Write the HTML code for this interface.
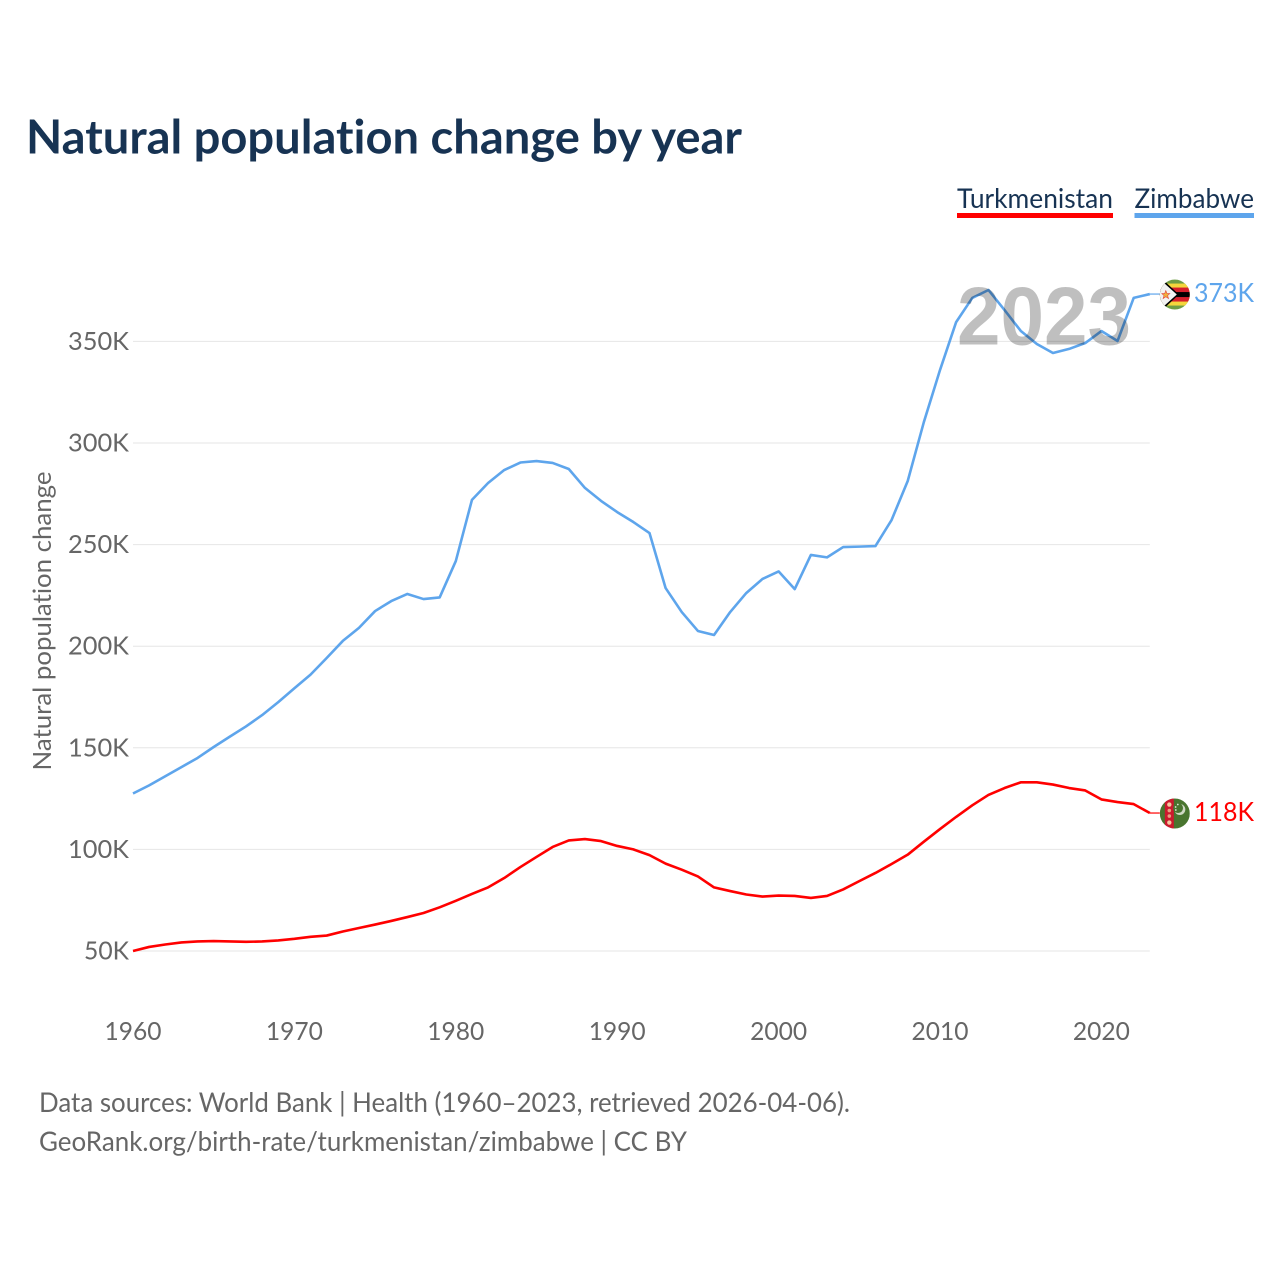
<!DOCTYPE html>
<html lang="en">
<head>
<meta charset="utf-8">
<title>Natural population change by year</title>
<style>
html,body{margin:0;padding:0;background:#fff;width:1280px;height:1280px;overflow:hidden}
svg{display:block}
text{font-family:"Lato","Carlito","Liberation Sans",sans-serif;font-variant-ligatures:none}
</style>
</head>
<body>
<svg id="chart" xmlns="http://www.w3.org/2000/svg" width="1280" height="1280" viewBox="0 0 1280 1280">
  <defs>
    <clipPath id="flag-clip"><circle cx="0" cy="0" r="15"></circle></clipPath>
  </defs>
  <rect x="0" y="0" width="1280" height="1280" fill="#fff"></rect>
  <text x="26" y="153.5" font-size="47" font-weight="700" fill="#173353" textLength="716" lengthAdjust="spacingAndGlyphs">Natural population change by year</text>

  <g>
    <g>
      <text x="957" y="208" font-size="27" fill="#173353" textLength="156" lengthAdjust="spacingAndGlyphs">Turkmenistan</text>
      <rect x="957" y="213" width="156" height="5" fill="#ff0000"></rect>
    </g>
    <g>
      <text x="1134.5" y="208" font-size="27" fill="#173353" textLength="119.5" lengthAdjust="spacingAndGlyphs">Zimbabwe</text>
      <rect x="1134.5" y="213" width="119.5" height="5" fill="#5ea5ec"></rect>
    </g>
  </g>

  <g id="grid"></g>
  <g id="y-ticks"></g>
  <g id="x-ticks"></g>
  <text transform="translate(51,621) rotate(-90)" text-anchor="middle" font-size="25.5" fill="#666" textLength="299" lengthAdjust="spacingAndGlyphs">Natural population change</text>

  <g id="series"></g>

  <text x="957" y="344.5" font-size="83" font-weight="700" fill="#000" fill-opacity="0.25" style="font-family:'Liberation Sans',sans-serif" textLength="174" lengthAdjust="spacingAndGlyphs">2023</text>

  <g id="flag-zimbabwe">
    <g clip-path="url(#flag-clip)">
      <rect x="-15" y="-15" width="30" height="30" fill="#6f9e45"></rect>
      <rect x="-15" y="-11" width="30" height="22" fill="#f4d63c"></rect>
      <rect x="-15" y="-7" width="30" height="14" fill="#d6202c"></rect>
      <rect x="-15" y="-2.5" width="30" height="5" fill="#000"></rect>
      <polygon points="-15,-15 -12,-15 4,0 -12,15 -15,15" fill="#000"></polygon>
      <polygon points="-15,-15 -13,-13.5 2,0 -13,13.5 -15,15" fill="#f2f2f2"></polygon>
      <polygon points="-9,-4 -7.8,-1 -5,-1 -7.2,1 -6.3,4 -9,2.2 -11.7,4 -10.8,1 -13,-1 -10.2,-1" fill="#f0b13c" stroke="#e2403a" stroke-width="0.6"></polygon>
    </g>
  </g>
  <g id="flag-turkmenistan">
    <g clip-path="url(#flag-clip)">
      <rect x="-15" y="-15" width="30" height="30" fill="#49752f"></rect>
      <rect x="-10" y="-15" width="9" height="30" fill="#cc1a2e"></rect>
      <circle cx="-5.5" cy="-9" r="2.2" fill="#f4c9a0"></circle>
      <circle cx="-5.5" cy="-3" r="1.8" fill="#e8a080"></circle>
      <circle cx="-5.5" cy="2.5" r="1.8" fill="#e8a080"></circle>
      <circle cx="-5.5" cy="9" r="2.2" fill="#f4c9a0"></circle>
      <circle cx="5" cy="-4" r="5.5" fill="#cfd8c4"></circle>
      <circle cx="3.2" cy="-5.5" r="5" fill="#49752f"></circle>
      <circle cx="3" cy="-9" r="0.9" fill="#e0e6d8"></circle>
      <circle cx="0.8" cy="-6.5" r="0.9" fill="#e0e6d8"></circle>
      <circle cx="1" cy="-3.5" r="0.9" fill="#e0e6d8"></circle>
    </g>
  </g>

  <g>
    <text x="39" y="1112" font-size="27" fill="#666" textLength="811" lengthAdjust="spacingAndGlyphs">Data sources: World Bank | Health (1960–2023, retrieved 2026-04-06).</text>
    <text x="39" y="1151" font-size="27" fill="#666" textLength="648" lengthAdjust="spacingAndGlyphs">GeoRank.org/birth-rate/turkmenistan/zimbabwe | CC BY</text>
  </g>
</svg>
<script>
const startYear = 1960;
const zimbabweValues = [127.5,131.5,136,140.5,145,150.4,155.5,160.5,166.1,172.5,179.3,186,194.2,202.6,209,217.3,222.2,225.7,223.2,224,241.9,272,280.3,286.7,290.4,291.1,290.2,287.2,277.9,271.5,266,261.1,255.7,228.6,216.8,207.5,205.5,216.8,226.2,233.1,236.8,228.1,244.9,243.7,248.8,249,249.3,262.1,281.3,310.3,335.9,359.5,371.4,375.3,365.4,355.2,348.7,344.3,346.3,349.2,355.1,350.2,371.4,373.3];
const turkmenistanValues = [50,52,53.2,54.2,54.7,54.9,54.7,54.5,54.7,55.2,56,57,57.6,59.6,61.3,63,64.8,66.7,68.7,71.5,74.7,78.1,81.3,85.9,91.3,96.3,101.2,104.4,105.1,104.1,101.7,100,97.2,93,90,86.7,81.3,79.5,77.8,76.8,77.3,77.1,76.1,77.1,80.3,84.4,88.4,92.8,97.4,103.8,110,116,121.7,126.8,130.2,133,133,131.9,130.2,129,124.6,123.3,122.3,117.9];
const yTicks = [50,100,150,200,250,300,350];
const xTicks = [1960,1970,1980,1990,2000,2010,2020];

const NS = 'http://www.w3.org/2000/svg';
function xScale(year){ return 133 + (year - 1960) * 16.14; }
function yScale(v){ return 951 - (v - 50) * 2.032; }
function make(tag, parent){ const el = document.createElementNS(NS, tag); parent.appendChild(el); return el; }

const grid = document.getElementById('grid');
const yG = document.getElementById('y-ticks');
const xG = document.getElementById('x-ticks');
const seriesG = document.getElementById('series');

yTicks.forEach(function(t){
  const line = make('line', grid);
  
  
  line.setAttribute('x1', xScale(1960));
  line.setAttribute('x2', xScale(2023));
  line.setAttribute('y1', yScale(t));
  line.setAttribute('y2', yScale(t));
  line.setAttribute('stroke', '#e6e6e6');
  line.setAttribute('stroke-width', '1');

  const label = make('text', yG);
  
  
  label.setAttribute('x', 129);
  label.setAttribute('y', yScale(t) + 8.5);
  label.setAttribute('text-anchor', 'end');
  label.setAttribute('font-size', '25.5');
  label.setAttribute('fill', '#666');
  const str = t + 'K';
  label.setAttribute('textLength', 16 * str.length - 3);
  label.setAttribute('lengthAdjust', 'spacingAndGlyphs');
  label.textContent = str;
});

xTicks.forEach(function(t){
  const label = make('text', xG);
  
  
  label.setAttribute('x', xScale(t));
  label.setAttribute('y', 1040);
  label.setAttribute('text-anchor', 'middle');
  label.setAttribute('font-size', '25.5');
  label.setAttribute('fill', '#666');
  label.setAttribute('textLength', 57);
  label.setAttribute('lengthAdjust', 'spacingAndGlyphs');
  label.textContent = String(t);
});

function drawSeries(values, color, key){
  const pts = values.map(function(v, i){ return xScale(startYear + i).toFixed(2) + ',' + yScale(v).toFixed(2); }).join(' ');
  const lastY = yScale(values[values.length - 1]);
  const lastX = xScale(startYear + values.length - 1);

  const path = make('polyline', seriesG);
  
  
  path.setAttribute('points', pts);
  path.setAttribute('fill', 'none');
  path.setAttribute('stroke', color);
  path.setAttribute('stroke-width', '2.6');
  path.setAttribute('stroke-linejoin', 'round');

  const conn = make('line', seriesG);
  
  
  conn.setAttribute('x1', lastX);
  conn.setAttribute('x2', lastX + 10);
  conn.setAttribute('y1', lastY);
  conn.setAttribute('y2', lastY);
  conn.setAttribute('stroke', color);
  conn.setAttribute('stroke-width', '1.2');

  const flag = document.getElementById('flag-' + key);
  flag.setAttribute('transform', 'translate(' + (lastX + 25) + ',' + (lastY + 0.5) + ')');

  const label = make('text', seriesG);
  
  
  label.setAttribute('x', 1254);
  label.setAttribute('y', lastY + 8);
  label.setAttribute('text-anchor', 'end');
  label.setAttribute('font-size', '26');
  label.setAttribute('fill', color);
  label.setAttribute('textLength', 60);
  label.setAttribute('lengthAdjust', 'spacingAndGlyphs');
  label.textContent = Math.round(values[values.length - 1]) + 'K';
}

drawSeries(zimbabweValues, '#5ea5ec', 'zimbabwe');
drawSeries(turkmenistanValues, '#ff0000', 'turkmenistan');
</script>
</body>
</html>
